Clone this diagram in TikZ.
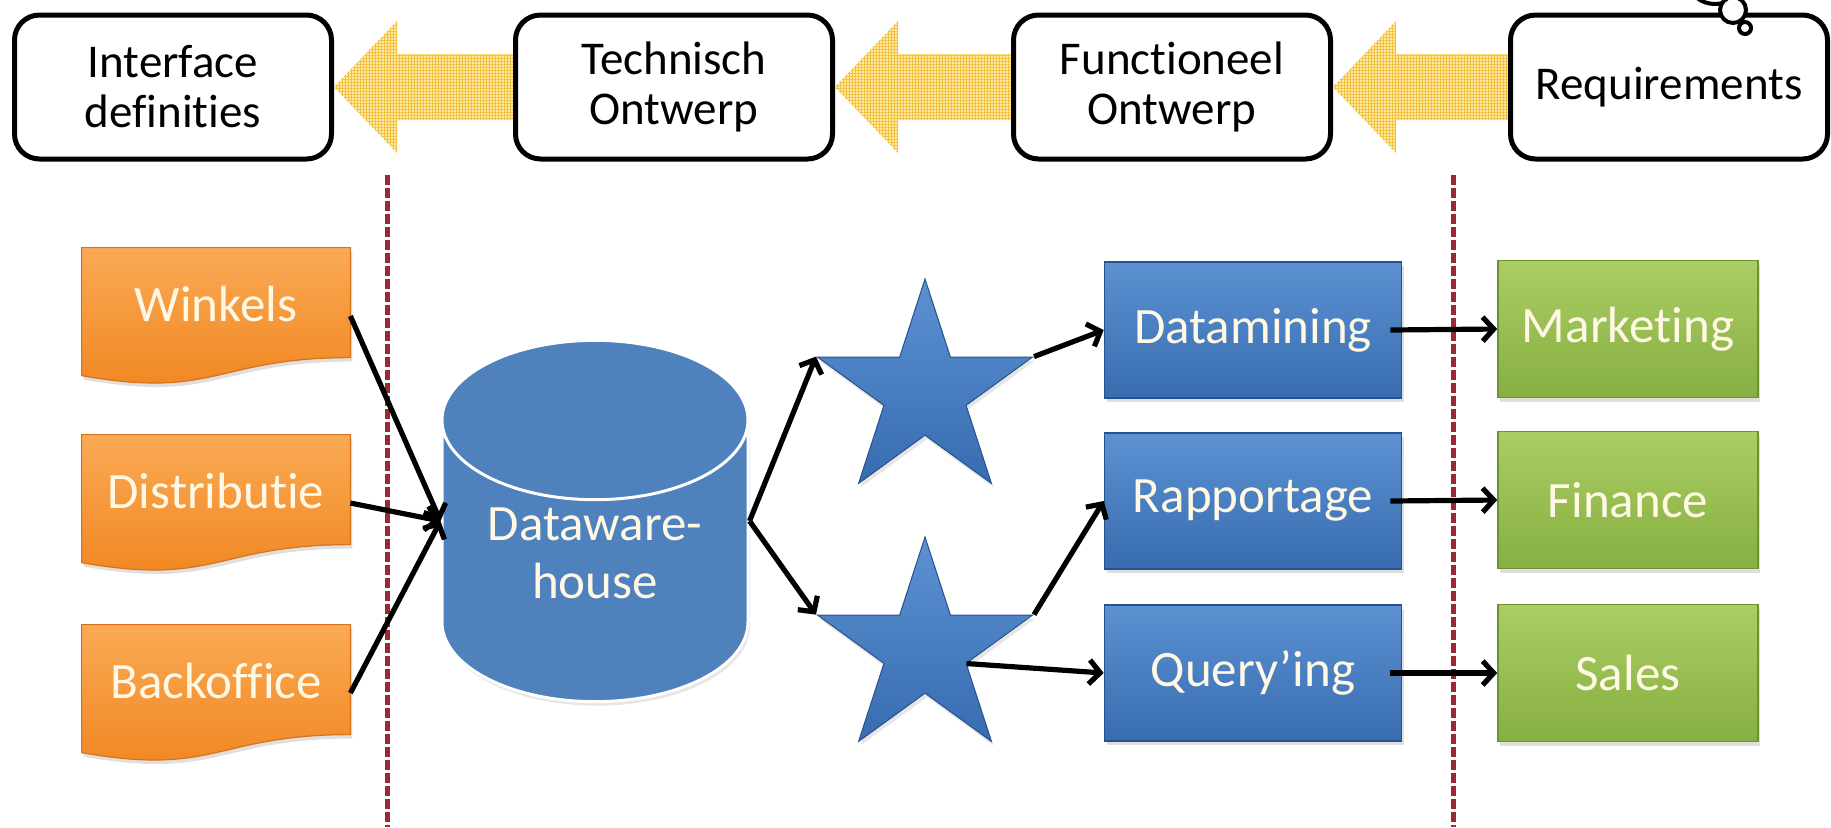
\documentclass[tikz,border=0pt]{standalone}
\usepackage{fontspec}
\setmainfont{Carlito}[Ligatures=NoCommon]
\usetikzlibrary{shapes.geometric,arrows.meta,patterns.meta,shadows,backgrounds,calc}

\definecolor{docorange}{RGB}{240,132,30}
\definecolor{docorangetop}{RGB}{250,170,85}
\definecolor{docedge}{RGB}{215,115,25}
\definecolor{toolblue}{RGB}{55,108,176}
\definecolor{toolbluetop}{RGB}{92,145,210}
\definecolor{tooledge}{RGB}{40,82,140}
\definecolor{dwhblue}{RGB}{79,129,189}
\definecolor{usergreen}{RGB}{135,175,65}
\definecolor{usergreentop}{RGB}{170,205,100}
\definecolor{useredge}{RGB}{110,145,50}
\definecolor{sepred}{RGB}{155,40,50}
\definecolor{arrowyellow}{RGB}{255,234,165}
\definecolor{gridyellow}{RGB}{242,192,60}
\definecolor{lighttext}{RGB}{255,248,228}

\begin{document}
\begin{tikzpicture}[x=0.5pt,y=-0.5pt]
  \tikzstyle{every node}=[font=\fontsize{25.5}{29}\selectfont]
  \tikzstyle{phase}=[rectangle,rounded corners=12.5pt,draw,line width=2.5pt,fill=white,
    minimum width=158.5pt,minimum height=72pt,align=center,font=\fontsize{23.5}{25}\selectfont]
  \tikzstyle{source}=[rectangle,minimum width=134pt,minimum height=56pt,inner sep=0pt,text=lighttext]
  \tikzstyle{docshape}=[top color=docorangetop,bottom color=docorange,draw=docedge,line width=0.6pt,
    drop shadow={opacity=0.25,shadow xshift=1pt,shadow yshift=-2pt}]
  \tikzstyle{dwhnode}=[cylinder,shape border rotate=90,aspect=0.7,minimum width=153pt,minimum height=176pt,
    fill=dwhblue,draw=white,line width=1.5pt,text=lighttext,align=center,text depth=20pt,
    drop shadow={opacity=0.2,shadow xshift=1pt,shadow yshift=-2pt}]
  \tikzstyle{starnode}=[star,star points=5,star point ratio=2.618,minimum size=113pt,inner sep=0pt,
    top color=toolbluetop,bottom color=toolblue,draw=tooledge,line width=0.5pt,
    drop shadow={opacity=0.2,shadow xshift=1pt,shadow yshift=-2pt}]
  \tikzstyle{tool}=[rectangle,minimum width=148.5pt,minimum height=68pt,top color=toolbluetop,
    bottom color=toolblue,draw=tooledge,line width=0.8pt,text=lighttext,
    drop shadow={opacity=0.25,shadow xshift=1pt,shadow yshift=-2pt}]
  \tikzstyle{user}=[rectangle,minimum width=130pt,minimum height=68.5pt,top color=usergreentop,
    bottom color=usergreen,draw=useredge,line width=0.8pt,text=lighttext,
    drop shadow={opacity=0.25,shadow xshift=1pt,shadow yshift=-2pt}]
  \tikzstyle{blockarrow}=[fill=arrowyellow,
    postaction={pattern={Lines[angle=0,distance=1.5pt,line width=0.5pt]},pattern color=gridyellow},
    postaction={pattern={Lines[angle=90,distance=1.5pt,line width=0.5pt]},pattern color=gridyellow}]
  \tikzstyle{sep}=[draw=sepred,line width=2.5pt,dash pattern=on 5pt off 1.5pt]
  \tikzstyle{flow}=[line width=2.6pt,-{Straight Barb[length=5.5pt,width=12pt]}]
  \tikzstyle{bubble}=[draw,line width=2pt,fill=white]

\useasboundingbox (0,0) rectangle (1831,827);

\node[phase] (iface) at (173,87) {Interface\\definities};
\node[phase] (tech) at (674,87) {Technisch\\Ontwerp};
\node[phase] (func) at (1172,87) {Functioneel\\Ontwerp};
\node[phase] (req) at (1669,87) {Requirements};
\draw[bubble] (1715,-16) ellipse [x radius=12.5pt,y radius=10pt];
\draw[bubble] (1733,10) circle [radius=6.5pt];
\draw[bubble] (1745,28) circle [radius=3pt];

\node[source] (winkels) at (216,304) {Winkels};
\node[source] (distr) at (216,491) {Distributie};
\node[source] (backoff) at (216,681) {Backoffice};

\node[dwhnode,anchor=shape center] (dwh) at (595,521) {Dataware-\\house};

\node[starnode] (s1) at (925,392) {};
\node[starnode] (s2) at (925,650) {};

\node[tool] (mining) at (1253,330) {Datamining};
\node[tool] (report) at (1253,501) {Rapportage};
\node[tool] (query) at (1253,673) {Query’ing};

\node[user] (mkt) at (1628,329) {Marketing};
\node[user] (fin) at (1628,500) {Finance};
\node[user] (sales) at (1628,673) {Sales};

\begin{scope}[on background layer]
\foreach \a/\b in {tech/iface,func/tech,req/func}
  \path[blockarrow] (\b.east) -- ++(63,-66) |- ($(\a.west)+(0,-33)$)
    -- ($(\a.west)+(0,33)$) -| ($(\b.east)+(63,66)$) -- cycle;
\foreach \n in {winkels,distr,backoff}
  \path[docshape] (\n.north west) -- (\n.north east) -- ($(\n.north east)+(0,110)$)
    .. controls ($(\n.north)+(0,110)$) and ($(\n.north)+(0,152)$) .. ($(\n.north west)+(0,128)$) -- cycle;
\end{scope}

\draw[sep] (387,175) -- (387,827);
\draw[sep] (1453,175) -- (1453,827);

\coordinate (dwhin) at (dwh.shape center -| dwh.west);
\coordinate (dwhout) at (dwh.shape center -| dwh.east);
\draw[flow] ([yshift=-6pt]winkels.east) -- (dwhin);
\draw[flow] ([yshift=-6pt]distr.east) -- (dwhin);
\draw[flow] ([yshift=-6pt]backoff.east) -- (dwhin);
\draw[flow] (dwhout) -- (s1.outer point 2);
\draw[flow] (dwhout) -- (s2.outer point 2);
\draw[flow] (s1.outer point 5) -- (mining.west);
\draw[flow] (s2.outer point 5) -- (report.west);
\draw[flow] (s2.inner point 4) -- (query.west);
\foreach \a/\b in {mining/mkt,report/fin,query/sales}
  \draw[flow] ([xshift=-6pt]\a.east) -- (\b.west);
\end{tikzpicture}
\end{document}
